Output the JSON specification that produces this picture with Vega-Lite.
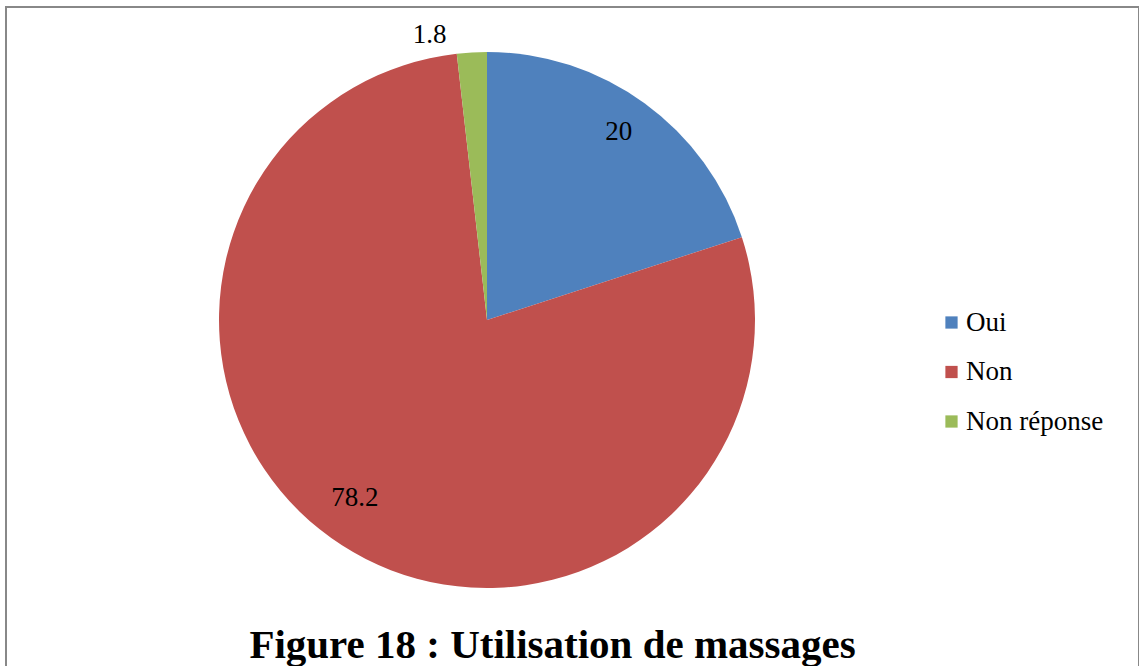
{
  "$schema": "https://vega.github.io/schema/vega-lite/v6.json",
  "width": 1133,
  "height": 666,
  "padding": {"left": 6, "top": 7, "right": 0, "bottom": 0},
  "background": "white",
  "view": {"stroke": "#888888", "strokeWidth": 2, "fill": "white"},
  "config": {
    "view": {"stroke": "#888888", "strokeWidth": 2},
    "font": "Liberation Serif"
  },
  "title": {
    "text": "Figure 18 : Utilisation de massages",
    "orient": "bottom",
    "anchor": "middle",
    "frame": "group",
    "offset": -47,
    "dx": -20,
    "font": "Liberation Serif",
    "fontSize": 41,
    "fontWeight": "bold",
    "color": "black"
  },
  "data": {
    "values": [
      {"categorie": "Oui", "valeur": 20, "ordre": 1},
      {"categorie": "Non", "valeur": 78.2, "ordre": 2},
      {"categorie": "Non réponse", "valeur": 1.8, "ordre": 3}
    ]
  },
  "encoding": {
    "theta": {"field": "valeur", "type": "quantitative", "stack": true},
    "order": {"field": "ordre", "type": "quantitative"}
  },
  "layer": [
    {
      "mark": {"type": "arc", "x": 481, "y": 313, "outerRadius": 268},
      "encoding": {
        "color": {
          "field": "categorie",
          "type": "nominal",
          "sort": ["Oui", "Non", "Non réponse"],
          "scale": {"domain": ["Oui", "Non", "Non réponse"], "range": ["#4F81BD", "#C0504D", "#9BBB59"]},
          "legend": {
            "title": null,
            "orient": "none",
            "legendX": 932,
            "legendY": 302,
            "symbolType": "square",
            "symbolSize": 150,
            "symbolStrokeWidth": 0,
            "labelFont": "Liberation Serif",
            "labelFontSize": 27,
            "labelColor": "black",
            "rowPadding": 21.5,
            "labelOffset": 1
          }
        }
      }
    },
    {
      "mark": {"type": "text", "x": 481, "y": 313, "radius": 224, "dy": -7, "font": "Liberation Serif", "fontSize": 27, "color": "black"},
      "encoding": {
        "text": {"condition": {"test": "datum.categorie !== 'Oui'", "value": ""}, "field": "valeur", "type": "quantitative"}
      }
    },
    {
      "mark": {"type": "text", "x": 481, "y": 313, "radius": 224, "dx": -11, "dy": -10, "font": "Liberation Serif", "fontSize": 27, "color": "black"},
      "encoding": {
        "text": {"condition": {"test": "datum.categorie !== 'Non'", "value": ""}, "field": "valeur", "type": "quantitative"}
      }
    },
    {
      "mark": {"type": "text", "x": 481, "y": 313, "radius": 290, "dx": -41, "dy": 5, "font": "Liberation Serif", "fontSize": 27, "color": "black"},
      "encoding": {
        "text": {"condition": {"test": "datum.categorie !== 'Non réponse'", "value": ""}, "field": "valeur", "type": "quantitative"}
      }
    }
  ]
}
